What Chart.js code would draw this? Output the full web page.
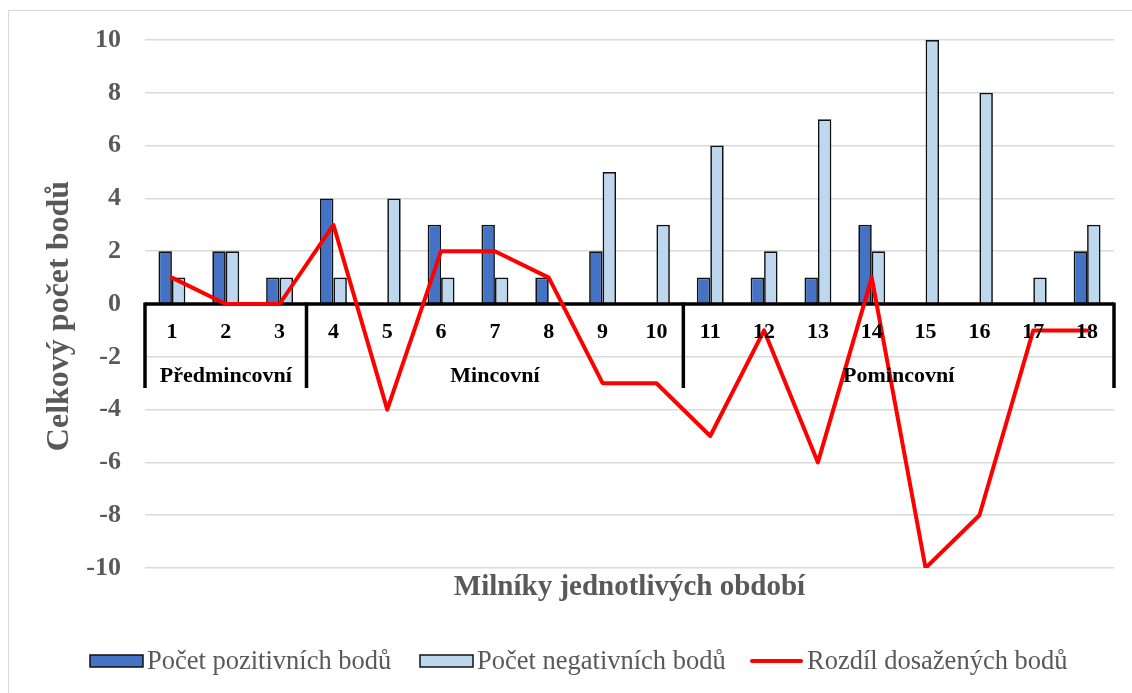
<!DOCTYPE html>
<html>
<head>
<meta charset="utf-8">
<script src="https://cdn.jsdelivr.net/npm/chart.js@4.4.1/dist/chart.umd.min.js"></script>
<style>
html,body{margin:0;padding:0;background:#fff;width:1132px;height:693px;overflow:hidden}
#frame{position:absolute;left:8px;top:10px;width:1200px;height:800px;border:1.5px solid #d9d9d9;box-sizing:border-box}
#wrap{position:absolute;left:0;top:0;width:1132px;height:693px}
</style>
</head>
<body>
<div id="frame"></div>
<div id="wrap"><canvas id="c" width="1132" height="693"></canvas></div>
<script>
const categories = ['1','2','3','4','5','6','7','8','9','10','11','12','13','14','15','16','17','18'];
const positivePoints = [2,2,1,4,0,3,3,1,2,0,1,1,1,3,0,0,0,2];
const negativePoints = [1,2,1,1,4,1,1,0,5,3,6,2,7,2,10,8,1,3];
const pointDifference = [1,0,0,3,-4,2,2,1,-3,-3,-5,-1,-6,1,-10,-8,-1,-1];
const yTickValues = [-10,-8,-6,-4,-2,0,2,4,6,8,10];
const periodNames = ['Předmincovní','Mincovní','Pomincovní'];
const periodFirst = [0,3,10];
const periodLast = [2,9,17];
const seriesNames = ['Počet pozitivních bodů','Počet negativních bodů','Rozdíl dosažených bodů'];
const yTitle = 'Celkový počet bodů';
const xTitle = 'Milníky jednotlivých období';

const SERIF = '"Liberation Serif", "Times New Roman", serif';
const GRAY = '#595959';
const colPos = '#4472C4', colNeg = '#BDD7EE', colLine = '#FF0000', colBorder = '#111111';

const overlay = {
  id: 'overlay',
  beforeDatasetDraw(chart, args) {
    if (args.meta.type !== 'line') return;
    const ctx = chart.ctx, ca = chart.chartArea;
    const y0 = chart.scales.y.getPixelForValue(0);
    ctx.save();
    ctx.strokeStyle = '#000';
    ctx.lineWidth = 3.5;
    ctx.beginPath();
    ctx.moveTo(ca.left, y0); ctx.lineTo(ca.right, y0);
    ctx.stroke();
    ctx.restore();
  },
  afterDatasetsDraw(chart) {
    const ctx = chart.ctx, ca = chart.chartArea;
    const xs = chart.scales.x, ys = chart.scales.y;
    const y0 = ys.getPixelForValue(0);
    const half = (xs.getPixelForValue(1) - xs.getPixelForValue(0)) / 2;
    ctx.save();
    // separators
    ctx.strokeStyle = '#000';
    ctx.lineWidth = 3.5;
    const bounds = [];
    periodFirst.forEach((f, i) => {
      bounds.push(xs.getPixelForValue(f) - half);
      if (i === periodFirst.length - 1) bounds.push(xs.getPixelForValue(periodLast[i]) + half);
    });
    bounds.forEach(bx => {
      ctx.beginPath(); ctx.moveTo(bx, y0 - 1.5); ctx.lineTo(bx, y0 + 84); ctx.stroke();
    });
    // tick labels
    ctx.fillStyle = '#000';
    ctx.textAlign = 'center';
    ctx.textBaseline = 'middle';
    ctx.font = 'bold 22px ' + SERIF;
    categories.forEach((c, i) => ctx.fillText(c, xs.getPixelForValue(i), y0 + 28));
    // group labels
    periodNames.forEach((n, i) => {
      const cx = (xs.getPixelForValue(periodFirst[i]) + xs.getPixelForValue(periodLast[i])) / 2;
      ctx.fillText(n, cx, y0 + 72);
    });
    // axis titles
    ctx.fillStyle = GRAY;
    ctx.font = 'bold 29px ' + SERIF;
    ctx.fillText(xTitle, (ca.left + ca.right) / 2, 588);
    ctx.save();
    ctx.translate(60, 316);
    ctx.rotate(-Math.PI / 2);
    ctx.font = 'bold 32px ' + SERIF;
    ctx.fillText(yTitle, 0, 0);
    ctx.restore();
    // legend
    ctx.font = '26.5px ' + SERIF;
    ctx.textAlign = 'left';
    ctx.textBaseline = 'middle';
    const ly = 661;
    const items = [
      {x: 90, type: 'box', fill: colPos},
      {x: 420, type: 'box', fill: colNeg},
      {x: 750, type: 'line'}
    ];
    items.forEach((it, i) => {
      if (it.type === 'box') {
        ctx.fillStyle = it.fill;
        ctx.fillRect(it.x, ly - 6, 53, 12);
        ctx.strokeStyle = colBorder; ctx.lineWidth = 1.5;
        ctx.strokeRect(it.x, ly - 6, 53, 12);
      } else {
        ctx.strokeStyle = colLine; ctx.lineWidth = 4; ctx.lineCap = 'round';
        ctx.beginPath(); ctx.moveTo(it.x + 2, ly); ctx.lineTo(it.x + 51, ly); ctx.stroke();
      }
      ctx.fillStyle = GRAY;
      ctx.fillText(seriesNames[i], it.x + 57, ly + 1);
    });
    ctx.restore();
  }
};

new Chart(document.getElementById('c'), {
  data: {
    labels: categories,
    datasets: [
      {type: 'line', label: seriesNames[2], data: pointDifference, borderColor: colLine, borderWidth: 4,
       pointRadius: 0, tension: 0, borderJoinStyle: 'round', borderCapStyle: 'round', order: 0},
      {type: 'bar', label: seriesNames[0], data: positivePoints, backgroundColor: colPos, borderColor: colBorder,
       borderWidth: 1.7, categoryPercentage: 0.5, barPercentage: 1, order: 1},
      {type: 'bar', label: seriesNames[1], data: negativePoints, backgroundColor: colNeg, borderColor: colBorder,
       borderWidth: 1.7, categoryPercentage: 0.5, barPercentage: 1, order: 2}
    ]
  },
  options: {
    responsive: false,
    animation: false,
    devicePixelRatio: 1,
    layout: {padding: {left: 0, top: 40, right: 18, bottom: 125}},
    plugins: {legend: {display: false}, tooltip: {enabled: false}},
    scales: {
      x: {display: false, offset: true},
      y: {
        min: -10, max: 10,
        afterFit(scale) { scale.width = 145; },
        afterBuildTicks(scale) { scale.ticks = yTickValues.map(v => ({value: v})); },
        ticks: {padding: 24, color: GRAY, font: {family: SERIF, size: 26, weight: 'bold'}},
        grid: {color: '#d9d9d9', lineWidth: 1.5, drawTicks: false},
        border: {display: false}
      }
    }
  },
  plugins: [overlay]
});
</script>
</body>
</html>
